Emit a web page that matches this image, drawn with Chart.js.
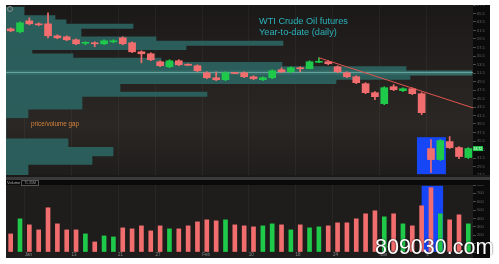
<!DOCTYPE html>
<html>
<head>
<meta charset="utf-8">
<script src="https://cdn.jsdelivr.net/npm/chart.js@4"></script>
<style>
  html, body { margin: 0; padding: 0; background: #fff; }
  #wrap { position: relative; width: 499px; height: 264px; overflow: hidden; font-family: "Liberation Sans", Arial, sans-serif; }
  #frame { position: absolute; left: 6px; top: 5px; width: 484px; height: 253px; background: #1b1a19; }
  canvas { position: absolute; left: 6px; }
  #price { top: 5px; }
  #volume { top: 185px; }
  .abs { position: absolute; white-space: nowrap; }
  .title { left: 259px; font-size: 9.2px; line-height: 10px; color: #2bb3bb; }
</style>
</head>
<body>
<div id="wrap">
  <div id="frame"></div>
  <div class="abs" style="left:6px;top:177px;width:484px;height:3px;background:#3a3a3a"></div>
  <div class="abs" style="left:6px;top:180px;width:484px;height:5px;background:#0a0a0a"></div>
  <canvas id="price" width="484" height="170"></canvas>
  <canvas id="volume" width="484" height="73"></canvas>
  <div class="abs" style="left:7px;top:6px;width:4px;height:4px;border:1px solid #8a8a8a;border-radius:50%"></div>
  <div class="abs title" style="top:16px">WTI Crude Oil futures</div>
  <div class="abs title" style="top:27px">Year-to-date (daily)</div>
  <div class="abs" style="left:31px;top:120px;font-size:6.3px;line-height:7px;color:#d8843c">price/volume gap</div>
  <div class="abs" style="left:7px;top:180px;font-size:4px;line-height:5px;color:#a8a8a8">Volume</div>
  <div class="abs" style="left:21px;top:180px;width:16px;height:4px;border:0.5px solid #555;font-size:3.5px;line-height:4px;color:#999;text-align:center">71.35M</div>
  <div class="abs" style="left:375px;top:237px;font-size:21.5px;line-height:21.5px;color:#fff;text-shadow:0 0 2px rgba(0,0,0,0.8)">809030.com</div>
</div>
<script>
// daily candles, Jan 2 .. Mar 13
const open  = [61.89, 61.19, 63.77, 63.07, 63.07, 60.25, 60.02, 59.31, 58.49, 58.61,
               58.37, 58.84, 59.78, 58.61, 56.49, 56.02, 54.15, 52.97, 54.38, 53.56,
               53.21, 51.56, 50.39, 49.92, 51.56, 51.56, 50.62, 49.92, 50.39, 52.27,
               51.80, 52.74, 52.50, 54.03, 54.15, 52.97, 51.56, 50.62, 48.98, 46.87,
               44.29, 48.28, 47.34, 47.81, 46.63, 33.72, 31.13, 35.36, 33.95, 31.61];
const high  = [62.13, 63.54, 64.48, 63.30, 65.65, 60.49, 60.25, 59.55, 58.84, 58.84,
               59.31, 59.31, 60.02, 58.84, 56.73, 56.26, 54.38, 54.62, 54.62, 53.68,
               53.44, 51.80, 51.80, 51.80, 51.68, 51.80, 50.86, 50.62, 52.27, 52.74,
               52.97, 52.97, 54.38, 55.09, 54.38, 53.21, 51.80, 50.86, 49.22, 47.10,
               48.28, 48.75, 48.04, 48.04, 46.87, 35.83, 35.83, 36.54, 34.19, 33.95];
const low   = [61.19, 60.96, 62.83, 62.60, 59.78, 59.55, 59.08, 58.14, 58.14, 57.67,
               58.14, 58.61, 58.14, 56.26, 53.91, 54.38, 52.97, 52.74, 53.21, 53.21,
               51.80, 50.15, 49.68, 49.68, 51.33, 50.39, 49.92, 49.68, 50.15, 51.56,
               51.56, 51.80, 52.50, 53.91, 53.44, 51.56, 50.39, 48.98, 46.63, 45.22,
               44.05, 47.34, 47.10, 46.40, 41.70, 28.08, 30.90, 33.72, 31.37, 31.37];
const close = [61.42, 63.30, 63.07, 62.83, 60.25, 59.78, 59.31, 58.37, 58.61, 58.37,
               59.08, 59.08, 58.37, 56.49, 56.02, 54.62, 53.21, 54.38, 53.44, 53.32,
               52.03, 50.39, 49.92, 51.56, 51.38, 50.62, 50.15, 50.39, 52.03, 51.80,
               52.74, 52.50, 54.15, 54.20, 53.68, 51.80, 50.62, 49.22, 46.87, 45.93,
               48.04, 47.57, 47.81, 46.63, 42.17, 31.13, 35.60, 33.95, 31.84, 33.72];
// daily volume, thousands of contracts
const volume = [216, 396, 324, 264, 528, 336, 264, 264, 216, 120,
                192, 180, 288, 276, 312, 252, 312, 276, 276, 312,
                360, 384, 372, 384, 324, 312, 300, 312, 336, 324,
                264, 324, 288, 300, 312, 348, 348, 396, 456, 492,
                420, 456, 336, 312, 552, 768, 456, 384, 444, 336];

// volume profile, one row per $1 price level (top to bottom)
const profilePrices = ['67','66','65','64','63','62','61','60','59','58',
                       '57','56','55','54','53','52','51','50','49','48',
                       '47','46','45','44','43','42','41','40','39','38',
                       '37','36','35','34','33','32','31','30','29','28'];
const profileVol = [360, 360, 980, 1200, 2540, 1500, 1500, 3000, 5540, 3600,
                    520, 1340, 3100, 5520, 8000, 9320, 8080, 6600, 2280, 2280,
                    4020, 1520, 1520, 1520, 440, 440, 0, 0, 0, 0,
                    0, 1240, 1240, 2140, 2140, 1720, 1720, 440, 440, 440];
const pocPrice = 51.62;

// trend line from the Feb 20 high
const trendX = [33, 49.5];
const trendY = [55.09, 43.3];

// weekly separators (index of first session of each week) and their labels
const weekIdx = [2, 7, 12, 16, 21, 26, 31, 35, 40, 45];
const weekLabels = ['Jan', '13', '21', '27', 'Feb', '10', '18', '24', 'Mar', '9'];

// highlighted gap-down sessions
const gapBox = { from: 43.5, to: 46.6, low: 27.7, high: 36.4 };
const volBox = { from: 44.0, to: 46.3, low: 0, high: 790 };

const RED = '#f26d6d', GREEN = '#1fc94a', BLUE = '#1646f5';
const candleColors = close.map((c, i) => c >= open[i] ? GREEN : RED);

const panelBg = {
    id: 'panelBg',
    beforeDraw(chart, args, opts) {
        const { ctx, chartArea: a, width, height } = chart;
        ctx.save();
        let fill = opts.color;
        if (opts.stops) {
            fill = ctx.createLinearGradient(0, a.top, 0, a.bottom);
            opts.stops.forEach(([s, c]) => fill.addColorStop(s, c));
        }
        ctx.fillStyle = fill;
        ctx.fillRect(0, 0, a.right, height);
        ctx.fillStyle = '#0b0b0b';
        ctx.fillRect(a.right, 0, width - a.right, height);
        ctx.restore();
    }
};

const highlight = {
    id: 'highlight',
    beforeDatasetsDraw(chart, args, opts) {
        const { ctx, scales: { x, y } } = chart;
        const b = opts.box;
        const l = x.getPixelForValue(b.from), r = x.getPixelForValue(b.to);
        const t = y.getPixelForValue(b.high), btm = y.getPixelForValue(b.low);
        ctx.save();
        ctx.fillStyle = BLUE;
        ctx.fillRect(l, t, r - l, btm - t);
        ctx.restore();
    }
};

const lastPrice = {
    id: 'lastPrice',
    afterDraw(chart) {
        const { ctx, chartArea: a, scales: { y } } = chart;
        const v = close[close.length - 1];
        const py = y.getPixelForValue(v);
        ctx.save();
        ctx.fillStyle = GREEN;
        ctx.fillRect(a.right, py - 2.5, 10, 5);
        ctx.fillStyle = '#fff';
        ctx.font = '3.5px Liberation Sans';
        ctx.textBaseline = 'middle';
        ctx.fillText(v.toFixed(2), a.right + 0.5, py);
        ctx.restore();
    }
};

const xTicks = (s) => { s.ticks = weekIdx.map(i => ({ value: i - 0.5 })); };
const fixY = (s) => { s.width = 17; s.paddingTop = 0; s.paddingBottom = 0; };

new Chart(document.getElementById('price'), {
    type: 'bar',
    data: {
        datasets: [
            { type: 'line', data: trendX.map((x, i) => ({ x, y: trendY[i] })), borderColor: '#e0554f', borderWidth: 1, pointRadius: 0, order: 0 },
            { data: open.map((o, i) => ({ x: i, y: [o, close[i]] })), backgroundColor: candleColors, barThickness: 7, minBarLength: 1, grouped: false, order: 1 },
            { data: low.map((l, i) => ({ x: i, y: [l, high[i]] })), backgroundColor: candleColors, barThickness: 1, grouped: false, order: 2 },
            { type: 'line', data: [{ x: -0.5, y: pocPrice }, { x: 49.5, y: pocPrice }], borderColor: 'rgba(120,185,178,0.7)', borderWidth: 1, pointRadius: 0, order: 3 },
            { indexAxis: 'y', xAxisID: 'xvp', yAxisID: 'yvp', data: profileVol,
              backgroundColor: profileVol.map(v => v === Math.max(...profileVol) ? '#366d69' : '#2b5e5b'),
              barThickness: 4.4, order: 4 }
        ]
    },
    options: {
        responsive: false,
        animation: false,
        plugins: {
            legend: { display: false },
            tooltip: { enabled: false },
            panelBg: { stops: [[0, '#1b1918'], [0.45, '#252220'], [0.7, '#2a2724'], [1, '#1f1d1b']] },
            highlight: { box: gapBox }
        },
        scales: {
            x: {
                type: 'linear', min: -0.5, max: 49.5, offset: false,
                afterBuildTicks: xTicks,
                afterFit: (s) => { s.height = 0; s.paddingLeft = 0; s.paddingRight = 0; },
                ticks: { display: false },
                grid: { color: 'rgba(255,255,255,0.045)', drawTicks: false, offset: false },
                border: { display: false }
            },
            y: {
                type: 'linear', position: 'right', min: 27.5, max: 67.5,
                afterFit: fixY,
                ticks: { stepSize: 2, color: '#666', font: { size: 4 }, padding: 1 },
                grid: { drawOnChartArea: false, tickLength: 3, color: '#4a4a4a' },
                border: { display: false }
            },
            xvp: { axis: 'x', type: 'linear', display: false, min: 0, max: 9340, offset: false },
            yvp: { axis: 'y', type: 'category', display: false, labels: profilePrices, offset: true }
        }
    },
    plugins: [panelBg, highlight, lastPrice]
});

new Chart(document.getElementById('volume'), {
    type: 'bar',
    data: {
        datasets: [
            { data: volume.map((v, i) => ({ x: i, y: v })), backgroundColor: candleColors, barThickness: 4 }
        ]
    },
    options: {
        responsive: false,
        animation: false,
        plugins: {
            legend: { display: false },
            tooltip: { enabled: false },
            panelBg: { color: '#1e1d1c' },
            highlight: { box: volBox }
        },
        scales: {
            x: {
                type: 'linear', min: -0.5, max: 49.5, offset: false,
                afterBuildTicks: xTicks,
                afterFit: (s) => { s.height = 6; s.paddingLeft = 0; s.paddingRight = 0; },
                ticks: { callback: (v, i) => weekLabels[i], color: '#8a8a8a', font: { size: 4.5 }, padding: 0, maxRotation: 0, autoSkip: false, align: 'start' },
                grid: { color: 'rgba(255,255,255,0.045)', drawTicks: false, offset: false },
                border: { display: false }
            },
            y: {
                type: 'linear', position: 'right', min: 0, max: 800,
                afterFit: fixY,
                ticks: { stepSize: 100, color: '#666', font: { size: 4 }, padding: 1 },
                grid: { drawOnChartArea: false, tickLength: 3, color: '#4a4a4a' },
                border: { display: false }
            }
        }
    },
    plugins: [panelBg, highlight]
});
</script>
</body>
</html>
